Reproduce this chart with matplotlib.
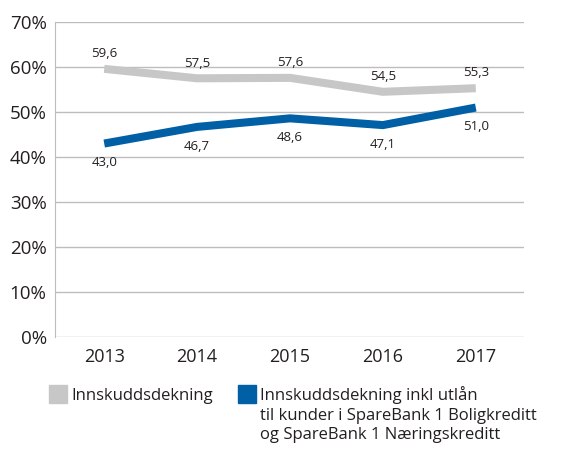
"""
Innskuddsdekning 2013-2017, line chart.
"""

import matplotlib.pyplot as plt
from matplotlib.patches import Rectangle

years = ["2013", "2014", "2015", "2016", "2017"]
dekning = [59.6, 57.5, 57.6, 54.5, 55.3]
dekning_inkl = [43.0, 46.7, 48.6, 47.1, 51.0]
yticks = [0, 10, 20, 30, 40, 50, 60, 70]

label_gray = "Innskuddsdekning"
label_blue = ("Innskuddsdekning inkl utlån\n"
              "til kunder i SpareBank 1 Boligkreditt\n"
              "og SpareBank 1 Næringskreditt")

GRAY = "#c6c7c6"
BLUE = "#005fa5"
TEXT = "#231f20"

plt.rcParams["font.family"] = ["Open Sans", "DejaVu Sans"]

fig = plt.figure(figsize=(5.77, 4.5), dpi=100)
ax = fig.add_axes([0.0953, 0.251, 0.813, 0.700])

x = list(range(len(years)))
ax.plot(x, dekning, color=GRAY, lw=5.8, solid_capstyle="butt", zorder=3)
ax.plot(x, dekning_inkl, color=BLUE, lw=5.8, solid_capstyle="butt", zorder=3)

for xi, v in zip(x, dekning):
    ax.annotate(f"{v:.1f}".replace(".", ","), (xi, v), xytext=(0, 11),
                textcoords="offset points", ha="center", va="center",
                fontsize=9.5, color=TEXT)
for xi, v in zip(x, dekning_inkl):
    ax.annotate(f"{v:.1f}".replace(".", ","), (xi, v), xytext=(0, -14),
                textcoords="offset points", ha="center", va="center",
                fontsize=9.5, color=TEXT)

ax.set_xlim(-0.53, 4.52)
ax.set_ylim(0, 70)
ax.set_yticks(yticks)
ax.set_yticklabels([f"{t}%" for t in yticks], fontsize=13.5, color=TEXT)
ax.set_xticks(x)
ax.set_xticklabels(years, fontsize=13, color=TEXT)
ax.tick_params(length=0)
ax.tick_params(axis="y", pad=6)
ax.tick_params(axis="x", pad=8)

ax.grid(axis="y", color="#bdbdbd", lw=1)
ax.set_axisbelow(True)
for side in ["top", "right", "bottom"]:
    ax.spines[side].set_visible(False)
ax.spines["left"].set_color("#bdbdbd")

# legend drawn by hand
W, H = 577, 450
fig.patches.append(Rectangle((49 / W, 1 - 403 / H), 18 / W, 18 / H,
                             transform=fig.transFigure, color=GRAY))
fig.text(71 / W, 1 - 396 / H, label_gray, fontsize=12, color=TEXT,
         va="center")
fig.patches.append(Rectangle((238 / W, 1 - 403 / H), 18 / W, 18 / H,
                             transform=fig.transFigure, color=BLUE))
fig.text(260 / W, 1 - 386 / H, label_blue, fontsize=12, color=TEXT,
         va="top", linespacing=1.3)

fig.savefig("out.png", dpi=100)
